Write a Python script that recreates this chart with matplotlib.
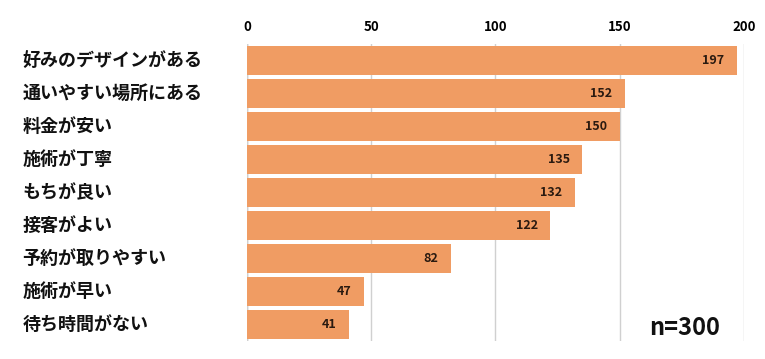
import matplotlib.pyplot as plt

plt.rcParams['font.family'] = ['Noto Sans CJK JP', 'DejaVu Sans']

labels = ['好みのデザインがある', '通いやすい場所にある', '料金が安い', '施術が丁寧',
          'もちが良い', '接客がよい', '予約が取りやすい', '施術が早い', '待ち時間がない']
counts = [197, 152, 150, 135, 132, 122, 82, 47, 41]
ticks = [0, 50, 100, 150, 200]

fig = plt.figure(figsize=(7.65, 3.59), dpi=100)
ax = fig.add_axes([0.3229, 0.05, 0.6496, 0.828])

ypos = list(range(len(labels)))
ax.barh(ypos, counts, height=0.87, color='#f09c63', zorder=2)
for y, v in zip(ypos, counts):
    ax.text(v - 5, y, str(v), ha='right', va='center', fontsize=9,
            fontweight='bold', color='#2a1a10', zorder=3)

ax.set_xlim(0, 200)
ax.set_ylim(len(labels) - 0.5, -0.5)
ax.set_xticks(ticks)
ax.xaxis.tick_top()
ax.tick_params(axis='x', length=0, pad=7, labelsize=9.5)
for t in ax.get_xticklabels():
    t.set_fontweight('bold')
ax.grid(axis='x', color='#d0d0d0', linewidth=1, zorder=0)
ax.set_yticks([])
for s in ax.spines.values():
    s.set_visible(False)
ax.axvline(0, color='#bbbbbb', linewidth=1, zorder=1)

for y, lab in zip(ypos, labels):
    ax.text(-0.452, y, lab, transform=ax.get_yaxis_transform(), ha='left',
            va='center', fontsize=13, fontweight='bold', color='#111111')

ax.text(0.952, 0.045, 'n=300', transform=ax.transAxes, ha='right', va='center',
        fontsize=17, fontweight='semibold', color='#111111')

fig.savefig('out.png')
